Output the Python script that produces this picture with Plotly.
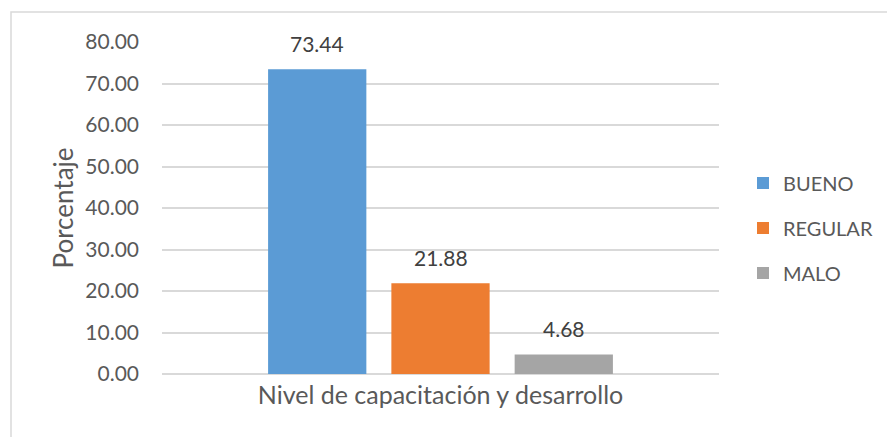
import plotly.graph_objects as go

# Survey result: level of training and development
category = ["Nivel de capacitación y desarrollo"]
series_names = ["BUENO", "REGULAR", "MALO"]
series_values = [73.44, 21.88, 4.68]
series_colors = ["#5B9BD5", "#ED7D31", "#A5A5A5"]

y_ticks = [0, 10, 20, 30, 40, 50, 60, 70, 80]

FONT = "Lato, Open Sans, Arial, sans-serif"

W, H = 887, 437
L, R, T, B = 162, 168, 42, 63
pw, ph = W - L - R, H - T - B

BARGAP = 0.336
BARGROUPGAP = 0.203

fig = go.Figure()
for i, (name, val, color) in enumerate(zip(series_names, series_values, series_colors)):
    fig.add_trace(go.Bar(
        name=name,
        x=category,
        y=[val],
        marker=dict(color=color, line=dict(width=0)),
        legendgroup=f"g{i}",
    ))

# value labels above each bar, offset horizontally to its slot in the group
slot_px = pw * (1 - BARGAP) / len(series_values)
annotations = []
for i, val in enumerate(series_values):
    annotations.append(dict(
        x=category[0], y=val, xref="x", yref="y",
        text=f"{val:.2f}",
        showarrow=False,
        xanchor="center", yanchor="middle",
        xshift=(i - (len(series_values) - 1) / 2) * slot_px,
        yshift=26,
        font=dict(family=FONT, size=21, color="#404040"),
    ))

fig.update_layout(
    width=W, height=H,
    margin=dict(l=L, r=R, t=T, b=B, autoexpand=False),
    paper_bgcolor="white",
    plot_bgcolor="white",
    barmode="group",
    bargap=BARGAP,
    bargroupgap=BARGROUPGAP,
    font=dict(family=FONT, color="#595959", size=21),
    showlegend=True,
    legend=dict(
        x=(743 - L) / pw, xanchor="left",
        y=(374 - 228) / ph, yanchor="middle",
        font=dict(family=FONT, size=20, color="#595959"),
        traceorder="grouped",
        tracegroupgap=16,
        bgcolor="rgba(0,0,0,0)",
    ),
    xaxis=dict(
        showgrid=False,
        showline=False,
        ticks="",
        ticklabelstandoff=4,
        tickfont=dict(family=FONT, size=25, color="#595959"),
        automargin=False,
    ),
    yaxis=dict(
        range=[0, 80],
        tickvals=y_ticks,
        tickformat=".2f",
        showgrid=True,
        gridcolor="#D9D9D9",
        gridwidth=1.5,
        zeroline=True,
        zerolinecolor="#D9D9D9",
        zerolinewidth=1.5,
        showline=False,
        ticks="",
        ticklabelstandoff=22,
        tickfont=dict(family=FONT, size=21, color="#595959"),
        title=dict(text="Porcentaje", font=dict(family=FONT, size=26, color="#595959"), standoff=4),
        automargin=False,
    ),
    annotations=annotations,
    shapes=[dict(
        type="rect", xref="paper", yref="paper",
        x0=(11 - L) / pw, x1=(900 - L) / pw,
        y0=(374 - 460) / ph, y1=(374 - 12) / ph,
        line=dict(color="#D9D9D9", width=1.5),
        fillcolor="rgba(0,0,0,0)",
        layer="below",
    )],
)

fig.write_html("out.html")
